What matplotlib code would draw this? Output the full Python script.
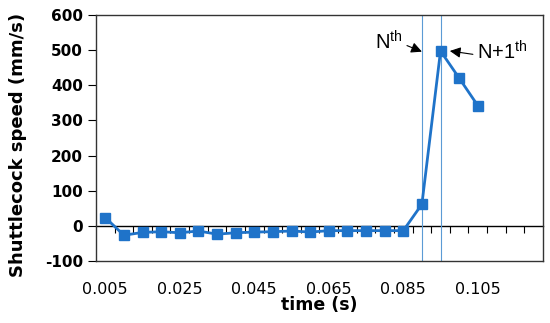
import matplotlib
matplotlib.use('Agg')
import matplotlib.pyplot as plt

# category axis (Excel style line chart)
time_cats = [0.005, 0.010, 0.015, 0.020, 0.025, 0.030, 0.035, 0.040,
             0.045, 0.050, 0.055, 0.060, 0.065, 0.070, 0.075, 0.080,
             0.085, 0.090, 0.095, 0.100, 0.105, 0.110, 0.115, 0.120]
speed = [24, -26, -18, -16, -19, -14, -23, -19, -17, -16, -14, -17,
         -13, -13, -13, -13, -13, 62, 497, 420, 342]
tick_labels = ['0.005', '0.025', '0.045', '0.065', '0.085', '0.105']
yticks = [-100, 0, 100, 200, 300, 400, 500, 600]
marked = [0.090, 0.095]   # Nth and N+1th frame

line_colour = '#1f73c9'
vline_colour = '#5b9bd5'

plt.rcParams['mathtext.fontset'] = 'custom'
plt.rcParams['mathtext.rm'] = 'Liberation Sans'

fig = plt.figure(figsize=(5.5, 3.23), dpi=100)
ax = fig.add_axes([0.1745, 0.191, 0.8127, 0.7636])

idx = list(range(len(time_cats)))
ax.plot(idx[:len(speed)], speed, color=line_colour, lw=2.0,
        marker='s', markersize=6.5, zorder=3)

for t in marked:
    ax.axvline(time_cats.index(t), color=vline_colour, lw=0.8, zorder=2)

ax.set_xlim(-0.5, len(time_cats) - 0.5)
ax.set_ylim(-100, 600)
ax.set_yticks(yticks)
ax.set_yticklabels([str(v) for v in yticks], fontsize=11, fontweight='bold',
                   family='DejaVu Sans')
ax.tick_params(axis='y', direction='out', length=5.5, width=0.8, pad=4)

lab_pos = [time_cats.index(float(s)) for s in tick_labels]
ax.set_xticks(lab_pos)
ax.set_xticklabels(tick_labels, fontsize=11.5)
ax.tick_params(axis='x', length=0, pad=15)

for s in ax.spines.values():
    s.set_color('#333333')
    s.set_linewidth(1.0)

# zero line with tick marks between categories
sec = ax.secondary_xaxis(100 / 700)
sec.set_xticks([i + 0.5 for i in idx[:-1]])
sec.set_xticklabels([])
sec.tick_params(direction='out', length=5, width=0.8, color='black')
sec.spines['bottom'].set_color('black')
sec.spines['bottom'].set_linewidth(1.0)

ax.set_xlabel('time (s)', fontsize=12.5, fontweight='bold')
ax.xaxis.set_label_coords(0.5, -0.14)
ax.set_ylabel('Shuttlecock speed (mm/s)', fontsize=13, fontweight='bold')
ax.yaxis.set_label_coords(-0.155, 0.47)

i_n = time_cats.index(marked[0])
ax.annotate('N$^{\\mathrm{th}}$', xy=(i_n, 495), xytext=(15.98, 502),
            ha='right', va='baseline', fontsize=14.5, family='Liberation Sans',
            arrowprops=dict(arrowstyle='-|>', color='black', lw=0.8,
                            relpos=(1.0, 0.4), shrinkA=1, shrinkB=0,
                            mutation_scale=16))
ax.annotate('N+1$^{\\mathrm{th}}$', xy=(18.5, 497), xytext=(19.96, 474),
            ha='left', va='baseline', fontsize=14.5, family='Liberation Sans',
            arrowprops=dict(arrowstyle='-|>', color='black', lw=0.8,
                            relpos=(0.0, 0.35), shrinkA=1, shrinkB=0,
                            mutation_scale=16))

fig.savefig('out.png', dpi=100)
